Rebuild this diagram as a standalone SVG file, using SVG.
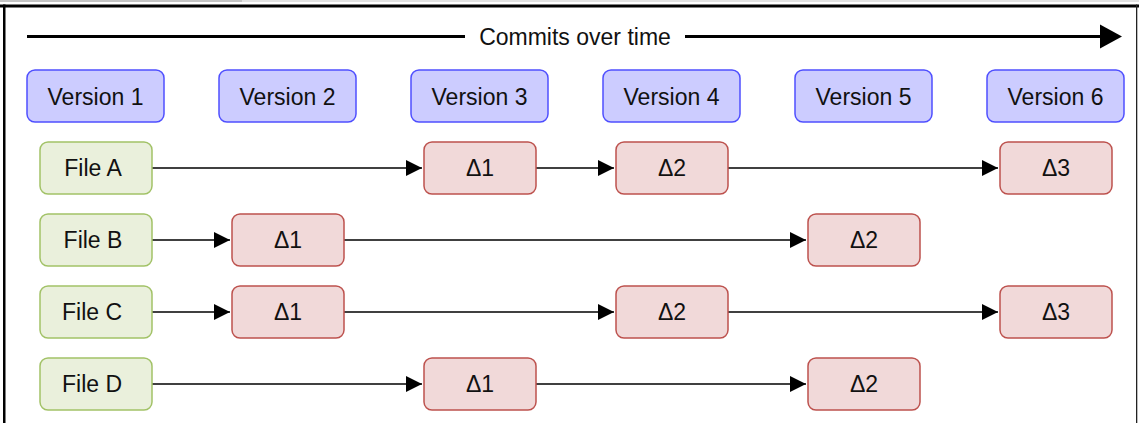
<svg xmlns="http://www.w3.org/2000/svg" width="1139" height="423" viewBox="0 0 1139 423">
  <style>
    text { font-family: "Liberation Sans", Arial, sans-serif; font-size: 23px; fill: #111; text-anchor: middle; }
    .ver rect { fill: #ccccff; stroke: #4f4fff; stroke-width: 1.5; }
    .file rect { fill: #eaf0dc; stroke: #a2c267; stroke-width: 1.5; }
    .delta rect { fill: #f1d9d9; stroke: #bd524e; stroke-width: 1.5; }
    .conn line { stroke: #000; stroke-width: 1.5; marker-end: url(#arr); }
  </style>
  <defs>
    <marker id="arr" viewBox="0 0 16 16" refX="16" refY="8" markerWidth="16" markerHeight="16" markerUnits="userSpaceOnUse" orient="auto">
      <path d="M0,0 L16,8 L0,16 Z" fill="#000"/>
    </marker>
  </defs>
  <rect width="1139" height="423" fill="#fff"/>
  <!-- frame -->
  <g id="frame">
    <rect x="0" y="0" width="242" height="2" fill="#c4c4c4"/>
    <rect x="242" y="0" width="897" height="2" fill="#e2e2e2"/>
    <rect x="0" y="4.5" width="1139" height="3" fill="#000"/>
    <rect x="3" y="4.5" width="2.5" height="418.5" fill="#000"/>
    <rect x="1136" y="4.5" width="1.3" height="418.5" fill="#222"/>
  </g>
  <!-- timeline -->
  <g id="timeline">
    <line x1="27" y1="36.5" x2="465" y2="36.5" stroke="#000" stroke-width="3"/>
    <line x1="685" y1="36.5" x2="1101" y2="36.5" stroke="#000" stroke-width="3"/>
    <path d="M1100,24.5 L1122,36.5 L1100,48.5 Z" fill="#000"/>
    <text x="575" y="45">Commits over time</text>
  </g>
  <!-- versions -->
  <g id="version1" class="ver"><rect x="27" y="70" width="137" height="52" rx="8"/><text x="95.5" y="104.5">Version 1</text></g>
  <g id="version2" class="ver"><rect x="219" y="70" width="137" height="52" rx="8"/><text x="287.5" y="104.5">Version 2</text></g>
  <g id="version3" class="ver"><rect x="411" y="70" width="137" height="52" rx="8"/><text x="479.5" y="104.5">Version 3</text></g>
  <g id="version4" class="ver"><rect x="603" y="70" width="137" height="52" rx="8"/><text x="671.5" y="104.5">Version 4</text></g>
  <g id="version5" class="ver"><rect x="795" y="70" width="137" height="52" rx="8"/><text x="863.5" y="104.5">Version 5</text></g>
  <g id="version6" class="ver"><rect x="987" y="70" width="137" height="52" rx="8"/><text x="1055.5" y="104.5">Version 6</text></g>
  <!-- connectors -->
  <g id="connectors" class="conn">
    <line x1="152" y1="168" x2="422" y2="168"/>
    <line x1="536" y1="168" x2="614" y2="168"/>
    <line x1="728" y1="168" x2="998" y2="168"/>
    <line x1="152" y1="240" x2="230" y2="240"/>
    <line x1="344" y1="240" x2="806" y2="240"/>
    <line x1="152" y1="312" x2="230" y2="312"/>
    <line x1="344" y1="312" x2="614" y2="312"/>
    <line x1="728" y1="312" x2="998" y2="312"/>
    <line x1="152" y1="384" x2="422" y2="384"/>
    <line x1="536" y1="384" x2="806" y2="384"/>
  </g>
  <!-- files -->
  <g id="fileA" class="file"><rect x="40" y="142" width="112" height="52" rx="8"/><text x="93" y="176.3">File A</text></g>
  <g id="fileB" class="file"><rect x="40" y="214" width="112" height="52" rx="8"/><text x="93" y="248.3">File B</text></g>
  <g id="fileC" class="file"><rect x="40" y="286" width="112" height="52" rx="8"/><text x="92" y="320.3">File C</text></g>
  <g id="fileD" class="file"><rect x="40" y="358" width="112" height="52" rx="8"/><text x="92" y="392.3">File D</text></g>
  <!-- deltas -->
  <g id="A_d1" class="delta"><rect x="424" y="142" width="112" height="52" rx="8"/><text x="480" y="176.3">Δ1</text></g>
  <g id="A_d2" class="delta"><rect x="616" y="142" width="112" height="52" rx="8"/><text x="672" y="176.3">Δ2</text></g>
  <g id="A_d3" class="delta"><rect x="1000" y="142" width="112" height="52" rx="8"/><text x="1056" y="176.3">Δ3</text></g>
  <g id="B_d1" class="delta"><rect x="232" y="214" width="112" height="52" rx="8"/><text x="288" y="248.3">Δ1</text></g>
  <g id="B_d2" class="delta"><rect x="808" y="214" width="112" height="52" rx="8"/><text x="864" y="248.3">Δ2</text></g>
  <g id="C_d1" class="delta"><rect x="232" y="286" width="112" height="52" rx="8"/><text x="288" y="320.3">Δ1</text></g>
  <g id="C_d2" class="delta"><rect x="616" y="286" width="112" height="52" rx="8"/><text x="672" y="320.3">Δ2</text></g>
  <g id="C_d3" class="delta"><rect x="1000" y="286" width="112" height="52" rx="8"/><text x="1056" y="320.3">Δ3</text></g>
  <g id="D_d1" class="delta"><rect x="424" y="358" width="112" height="52" rx="8"/><text x="480" y="392.3">Δ1</text></g>
  <g id="D_d2" class="delta"><rect x="808" y="358" width="112" height="52" rx="8"/><text x="864" y="392.3">Δ2</text></g>
</svg>
